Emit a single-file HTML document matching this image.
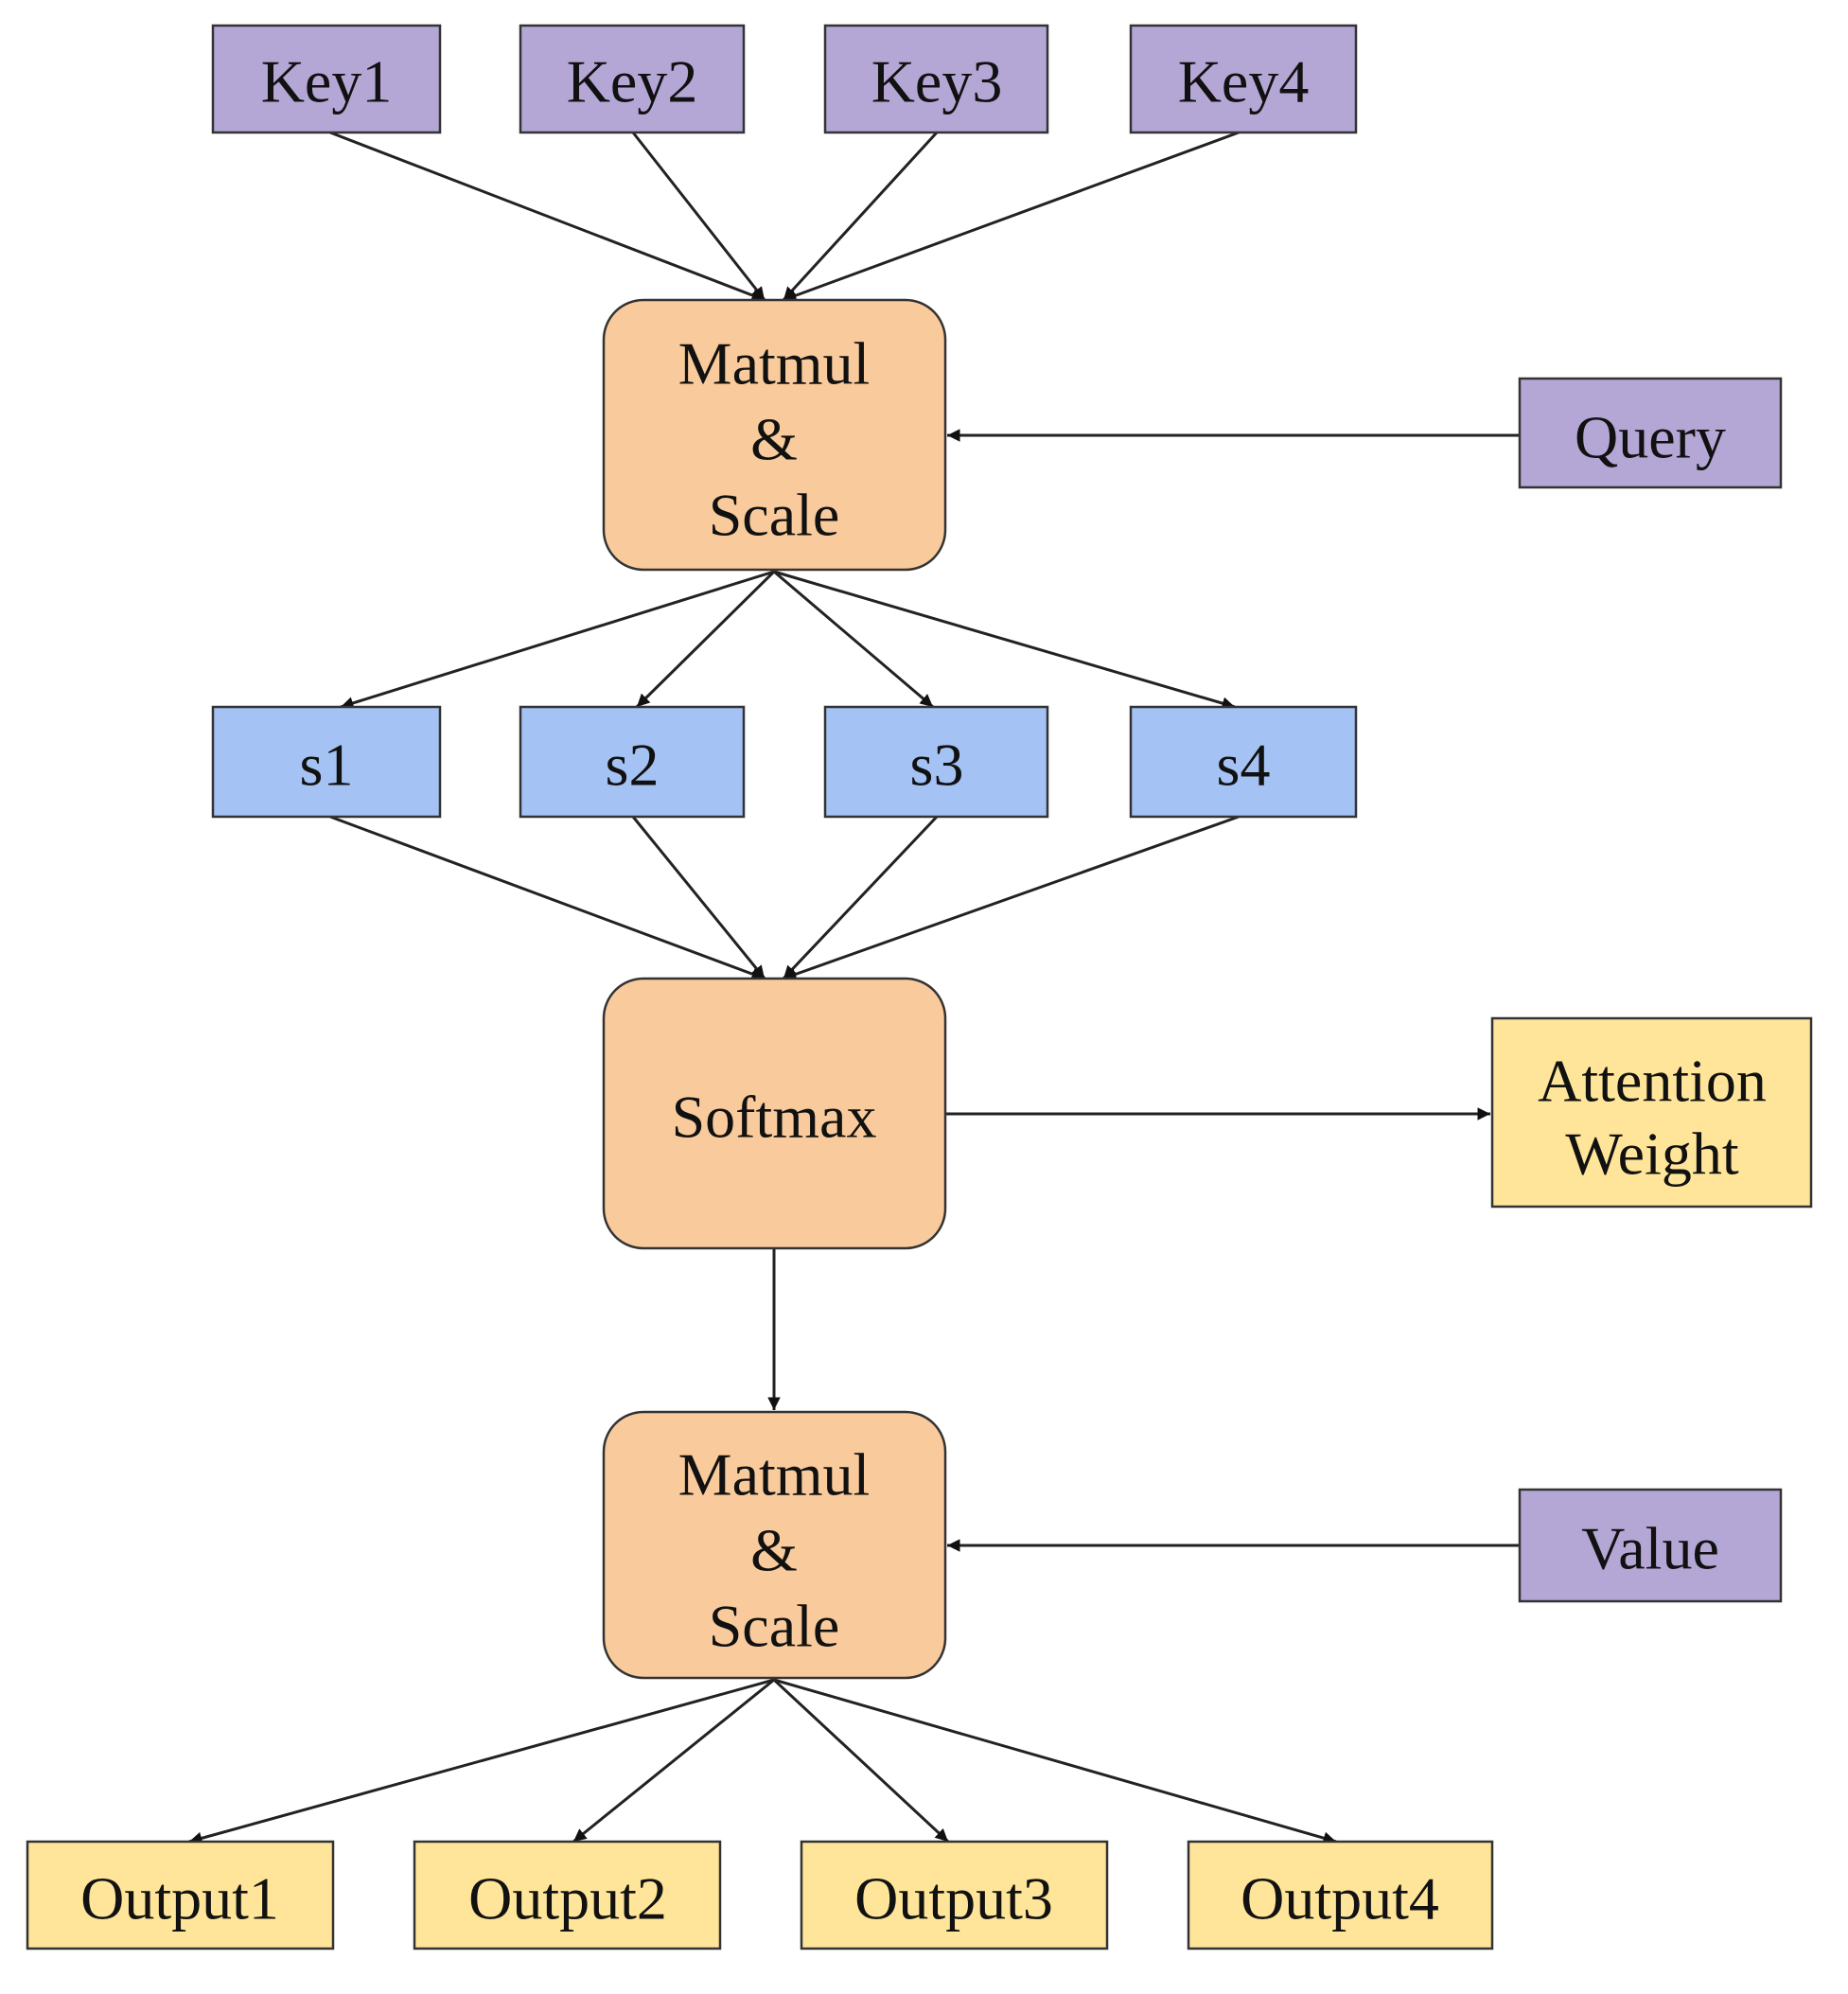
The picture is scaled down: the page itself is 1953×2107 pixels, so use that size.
<!DOCTYPE html>
<html><head><meta charset="utf-8"><style>
html,body{margin:0;padding:0;background:#fff;}
svg text{font-family:"Liberation Serif",serif;font-size:64px;fill:#111;text-anchor:middle;dominant-baseline:central;}
</style></head><body>
<svg width="1953" height="2102" viewBox="0 0 1953 2102" xmlns="http://www.w3.org/2000/svg">
<defs><marker id="a" viewBox="0 0 10 10" refX="10" refY="5" markerWidth="4.5" markerHeight="4.5" orient="auto"><path d="M0,0L10,5L0,10z" fill="#111"/></marker></defs>
<g stroke="#222" stroke-width="3" fill="none" marker-end="url(#a)">
<line x1="349" y1="140" x2="808" y2="317"/><line x1="669" y1="140" x2="808" y2="317"/>
<line x1="990" y1="140" x2="828" y2="317"/><line x1="1309" y1="140" x2="828" y2="317"/>
<line x1="1606" y1="460" x2="1001" y2="460"/>
<line x1="818" y1="604" x2="360" y2="747"/><line x1="818" y1="604" x2="673" y2="747"/>
<line x1="818" y1="604" x2="986" y2="747"/><line x1="818" y1="604" x2="1305" y2="747"/>
<line x1="349" y1="863" x2="808" y2="1034"/><line x1="669" y1="863" x2="808" y2="1034"/>
<line x1="990" y1="863" x2="828" y2="1034"/><line x1="1309" y1="863" x2="828" y2="1034"/>
<line x1="999" y1="1177" x2="1575" y2="1177"/>
<line x1="818" y1="1319" x2="818" y2="1490"/>
<line x1="1606" y1="1633" x2="1001" y2="1633"/>
<line x1="818" y1="1775" x2="200" y2="1946"/><line x1="818" y1="1775" x2="606" y2="1946"/>
<line x1="818" y1="1775" x2="1002" y2="1946"/><line x1="818" y1="1775" x2="1412" y2="1946"/>
</g>
<g stroke="#333" stroke-width="2.5">
<rect x="225" y="27" width="240" height="113" fill="#b4a7d6"/>
<rect x="550" y="27" width="236" height="113" fill="#b4a7d6"/>
<rect x="872" y="27" width="235" height="113" fill="#b4a7d6"/>
<rect x="1195" y="27" width="238" height="113" fill="#b4a7d6"/>
<rect x="638" y="317" width="361" height="285" rx="42" fill="#f9cb9c"/>
<rect x="1606" y="400" width="276" height="115" fill="#b4a7d6"/>
<rect x="225" y="747" width="240" height="116" fill="#a4c2f4"/>
<rect x="550" y="747" width="236" height="116" fill="#a4c2f4"/>
<rect x="872" y="747" width="235" height="116" fill="#a4c2f4"/>
<rect x="1195" y="747" width="238" height="116" fill="#a4c2f4"/>
<rect x="638" y="1034" width="361" height="285" rx="42" fill="#f9cb9c"/>
<rect x="1577" y="1076" width="337" height="199" fill="#ffe599"/>
<rect x="638" y="1492" width="361" height="281" rx="42" fill="#f9cb9c"/>
<rect x="1606" y="1574" width="276" height="118" fill="#b4a7d6"/>
<rect x="29" y="1946" width="323" height="113" fill="#ffe599"/>
<rect x="438" y="1946" width="323" height="113" fill="#ffe599"/>
<rect x="847" y="1946" width="323" height="113" fill="#ffe599"/>
<rect x="1256" y="1946" width="321" height="113" fill="#ffe599"/>
</g>
<text x="345" y="86">Key1</text><text x="668" y="86">Key2</text><text x="990" y="86">Key3</text><text x="1314" y="86">Key4</text>
<text x="818" y="384">Matmul</text><text x="818" y="464">&amp;</text><text x="818" y="544">Scale</text>
<text x="1744" y="462">Query</text>
<text x="345" y="808">s1</text><text x="668" y="808">s2</text><text x="990" y="808">s3</text><text x="1314" y="808">s4</text>
<text x="818" y="1180">Softmax</text>
<text x="1746" y="1142">Attention</text><text x="1746" y="1219">Weight</text>
<text x="818" y="1558">Matmul</text><text x="818" y="1638">&amp;</text><text x="818" y="1718">Scale</text>
<text x="1744" y="1636">Value</text>
<text x="190" y="2006">Output1</text><text x="600" y="2006">Output2</text><text x="1008" y="2006">Output3</text><text x="1416" y="2006">Output4</text>
</svg>
</body></html>
